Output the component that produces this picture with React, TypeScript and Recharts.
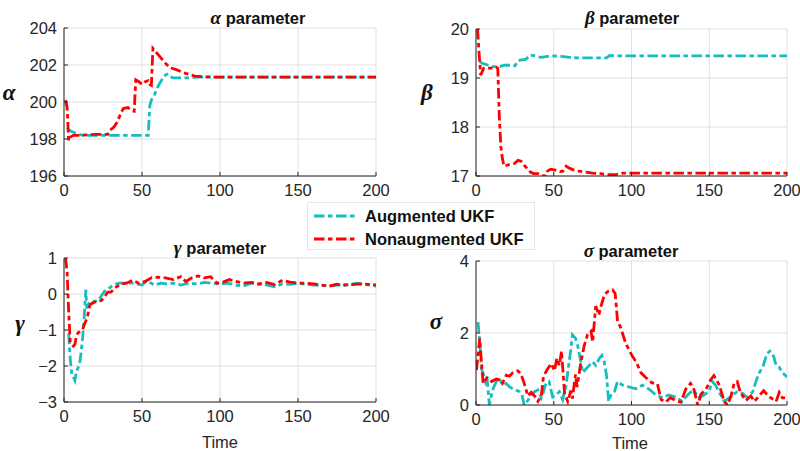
import React from 'react';
import { LineChart, Line, XAxis, YAxis, CartesianGrid } from 'recharts';

type Pt = [number, number];

const timeTicks = [0, 50, 100, 150, 200];
const alphaTicks = [196, 198, 200, 202, 204];
const betaTicks = [17, 18, 19, 20];
const gammaTicks = [-3, -2, -1, 0, 1];
const sigmaTicks = [0, 2, 4];

const seriesNames = ['Augmented UKF', 'Nonaugmented UKF'];

const alphaAugmented: Pt[] = [
  [2, 198.6], [3, 198.5], [5, 198.4], [8, 198.3], [12, 198.2], [20, 198.2], [30, 198.2], [40, 198.2],
  [50, 198.2], [54, 198.2], [55, 199.8], [56, 200.1], [58, 200.4], [60, 200.8], [62, 201.1], [64, 201.4],
  [66, 201.5], [68, 201.35], [70, 201.3], [75, 201.3], [80, 201.3], [85, 201.35], [90, 201.35],
  [100, 201.35], [150, 201.35], [200, 201.35],
];
const alphaNonaugmented: Pt[] = [
  [1, 200.1], [2, 199.7], [3, 197.9], [4, 198.1], [6, 198.2], [10, 198.2], [20, 198.25], [28, 198.25],
  [30, 198.5], [32, 198.65], [34, 198.9], [36, 199.3], [38, 199.65], [41, 199.7], [43, 199.55], [45, 199.5],
  [46, 201.2], [48, 201.1], [50, 200.95], [52, 201.1], [54, 201.15], [55, 200.95], [56, 200.9], [57, 202.9],
  [59, 202.7], [62, 202.4], [65, 202.1], [68, 201.85], [72, 201.75], [76, 201.6], [80, 201.5], [84, 201.4],
  [88, 201.37], [95, 201.35], [200, 201.35],
];

const betaAugmented: Pt[] = [
  [2, 19.35], [4, 19.3], [7, 19.27], [10, 19.24], [14, 19.22], [18, 19.26], [22, 19.26], [25, 19.25],
  [27, 19.35], [29, 19.37], [32, 19.38], [35, 19.47], [38, 19.45], [42, 19.42], [46, 19.44], [50, 19.45],
  [55, 19.44], [60, 19.42], [65, 19.41], [70, 19.41], [80, 19.41], [84, 19.41], [86, 19.46], [90, 19.45],
  [200, 19.45],
];
const betaNonaugmented: Pt[] = [
  [1, 20], [2, 19.5], [3, 19.06], [5, 19.2], [8, 19.2], [11, 19.2], [13, 19.22], [14, 19.2], [15, 18.2],
  [16, 17.6], [17, 17.35], [18, 17.2], [20, 17.22], [23, 17.25], [25, 17.26], [27, 17.32], [29, 17.3],
  [31, 17.22], [33, 17.15], [35, 17.08], [37, 17.05], [40, 17.05], [42, 17.02], [44, 17.0], [45, 17.0],
  [46, 17.1], [48, 17.14], [51, 17.12], [54, 17.09], [56, 17.1], [58, 17.2], [60, 17.16], [63, 17.12],
  [66, 17.1], [70, 17.08], [75, 17.06], [80, 17.05], [85, 17.03], [90, 17.03], [95, 17.06], [200, 17.06],
];

const gammaAugmented: Pt[] = [
  [3, -1.1], [4, -1.8], [5, -2.25], [6, -2.3], [7, -2.4], [8, -2.15], [9, -2.05], [10, -1.95], [11, -1.6],
  [12, -1.2], [13, -0.6], [14, 0.12], [14.6, -0.4], [16, -0.25], [18, -0.22], [20, -0.2], [22, -0.18],
  [24, -0.05], [26, 0.08], [28, 0.12], [30, 0.2], [32, 0.26], [35, 0.3], [40, 0.3], [44, 0.3], [48, 0.27],
  [50, 0.25], [53, 0.35], [56, 0.3], [58, 0.25], [62, 0.3], [66, 0.28], [70, 0.3], [75, 0.25], [80, 0.3],
  [85, 0.28], [90, 0.32], [95, 0.3], [100, 0.28], [105, 0.3], [110, 0.25], [115, 0.22], [120, 0.3],
  [125, 0.27], [130, 0.25], [135, 0.2], [140, 0.28], [145, 0.27], [150, 0.3], [155, 0.27], [160, 0.25],
  [165, 0.24], [170, 0.22], [175, 0.25], [180, 0.25], [185, 0.28], [188, 0.3], [192, 0.27], [196, 0.25],
  [200, 0.22],
];
const gammaNonaugmented: Pt[] = [
  [1, 1.0], [2, 0.6], [3, -0.5], [4, -1.35], [5, -1.4], [6, -1.45], [7, -1.4], [8, -1.15], [9, -1.08],
  [11, -1.0], [12, -0.98], [13, -0.85], [14, -0.75], [15, -0.65], [16, -0.4], [17, -0.28], [19, -0.24],
  [21, -0.2], [24, -0.18], [26, -0.08], [28, 0.05], [30, 0.05], [33, 0.18], [36, 0.27], [40, 0.3],
  [44, 0.38], [48, 0.3], [52, 0.35], [56, 0.45], [60, 0.47], [65, 0.45], [70, 0.4], [75, 0.48], [78, 0.35],
  [82, 0.45], [86, 0.5], [90, 0.45], [94, 0.48], [98, 0.3], [102, 0.33], [106, 0.4], [110, 0.35],
  [115, 0.3], [120, 0.32], [125, 0.28], [130, 0.32], [135, 0.26], [140, 0.38], [145, 0.33], [150, 0.3],
  [155, 0.3], [160, 0.28], [165, 0.25], [170, 0.22], [175, 0.27], [180, 0.25], [185, 0.26], [190, 0.28],
  [195, 0.27], [200, 0.25],
];

const sigmaAugmented: Pt[] = [
  [1.3, 2.3], [2.5, 1.7], [3.5, 1.0], [4.3, 0.92], [6, 0.65], [7, 0.8], [8.6, 0.0], [10, 0.3], [11, 0.45],
  [13, 0.65], [15, 0.72], [17.3, 0.55], [19.4, 0.6], [21.6, 0.5], [23.7, 0.45], [25.7, 0.42], [27.9, 0.37],
  [29.6, 0.28], [31, 0.0], [33.4, 0.13], [35.5, 0.28], [37.7, 0.37], [39.8, 0.42], [42, 0.2], [43.4, 0.37],
  [45, 0.6], [47, 0.65], [49.3, 0.22], [51.4, 0.28], [53.6, 0.37], [55.7, 0.15], [57.9, 0.55], [59.6, 1.1],
  [61, 1.55], [62, 1.95], [64, 1.85], [65.4, 1.65], [67, 1.3], [68.6, 0.9], [70.7, 1.0], [72.9, 1.1],
  [75, 1.2], [77, 1.1], [79.4, 1.3], [81, 1.38], [82.5, 1.2], [84, 0.8], [85.3, 0.1], [86.8, 0.28],
  [89, 0.37], [91, 0.65], [94.3, 0.55], [98.5, 0.5], [102.8, 0.45], [107, 0.55], [111, 0.45], [115.6, 0.28],
  [120, 0.2], [124, 0.28], [128.6, 0.22], [132.6, 0.1], [137, 0.32], [140, 0.42], [143, 0.2], [146.6, 0.28],
  [149.8, 0.37], [152, 0.65], [154, 0.55], [157.3, 0.28], [159.6, 0.1], [162.8, 0.2], [165, 0.28],
  [168, 0.37], [171.5, 0.32], [174.7, 0.2], [178, 0.37], [180, 0.65], [182, 0.88], [184.8, 1.1], [187, 1.42],
  [189, 1.5], [191.4, 1.35], [193, 1.1], [195, 1.05], [197, 0.9], [200, 0.78],
];
const sigmaNonaugmented: Pt[] = [
  [0.3, 0.97], [2.4, 1.85], [3.5, 1.2], [4.6, 0.6], [7, 0.75], [10, 0.65], [13, 0.72], [15, 0.7], [17, 0.6],
  [19.5, 0.83], [21.5, 0.8], [23.7, 0.9], [27, 0.95], [29, 0.85], [31, 0.6], [33.4, 0.25], [35.5, 0.35],
  [37.7, 0.25], [39.8, 0.1], [42, 0.25], [43.4, 0.8], [46, 1.0], [48.4, 1.15], [50.5, 0.95], [52, 1.3],
  [53.6, 1.1], [55, 1.5], [57, 0.3], [59, 0.1], [61, 0.4], [62, 0.18], [64, 0.85], [65, 0.5], [67.5, 1.2],
  [69.6, 1.65], [71.7, 1.95], [74, 2.05], [75, 1.75], [77, 2.75], [79, 2.5], [80.4, 2.75], [82.5, 3.05],
  [84.6, 3.15], [87.8, 3.2], [89.5, 3.1], [91, 2.35], [93, 2.15], [96.4, 1.7], [100.6, 1.35], [103, 1.2],
  [106, 0.9], [109, 0.77], [113, 0.62], [116.7, 0.58], [119, 0.15], [122, 0.08], [125, 0.2], [128.6, 0.12],
  [131.8, 0.08], [135, 0.45], [138, 0.6], [140, 0.45], [142.6, 0.0], [144.7, 0.3], [148, 0.45], [151, 0.7],
  [153, 0.82], [156.5, 0.55], [159.6, 0.1], [161.7, 0.0], [164, 0.25], [166, 0.6], [168, 0.65], [170, 0.35],
  [173.6, 0.12], [176.8, 0.25], [179, 0.1], [182, 0.25], [185, 0.4], [187, 0.3], [189.6, 0.2], [193, 0.1],
  [195, 0.35], [197, 0.2], [200, 0.2],
];

const toRows = (pts: Pt[]) => pts.map(([t, v]) => ({ t, v }));

const CYAN = '#17BDBD';
const RED = '#FF0000';
const DASH = '10.5 3.5 4.5 3.5';
const AXIS = '#262626';
const GRID = '#e0e0e0';
const SANS = '"Liberation Sans", Arial, Helvetica, sans-serif';
const SERIF = '"Liberation Serif", "Times New Roman", serif';
const LINE_W = 2.8;

const fmtMinus = (v: number) => String(v).replace('-', '\u2212');

type PanelProps = {
  left: number;
  top: number;
  width: number;
  height: number;
  margin: { top: number; right: number; bottom: number; left: number };
  yDomain: [number, number];
  yTicks: number[];
  aug: Pt[];
  non: Pt[];
};

function Panel({ left, top, width, height, margin, yDomain, yTicks, aug, non }: PanelProps) {
  const tickStyle = { fill: AXIS, fontSize: 16.5, fontFamily: SANS };
  return (
    <div style={{ position: 'absolute', left, top, width, height }}>
      <LineChart width={width} height={height} margin={margin}>
        <CartesianGrid stroke={GRID} strokeWidth={1} />
        <XAxis
          dataKey="t"
          type="number"
          domain={[0, 200]}
          ticks={timeTicks}
          allowDataOverflow
          height={30}
          stroke={AXIS}
          tickSize={-4}
          tickMargin={12}
          tick={tickStyle}
          axisLine={{ stroke: AXIS }}
          tickLine={{ stroke: AXIS }}
        />
        <YAxis
          dataKey="v"
          type="number"
          domain={yDomain}
          ticks={yTicks}
          allowDataOverflow
          width={40}
          tickSize={-4}
          tickMargin={11}
          tick={tickStyle}
          tickFormatter={fmtMinus}
          axisLine={{ stroke: AXIS }}
          tickLine={{ stroke: AXIS }}
        />
        <Line
          data={toRows(aug)}
          dataKey="v"
          type="linear"
          stroke={CYAN}
          strokeWidth={LINE_W}
          strokeDasharray={DASH}
          dot={false}
          activeDot={false}
          isAnimationActive={false}
          name={seriesNames[0]}
        />
        <Line
          data={toRows(non)}
          dataKey="v"
          type="linear"
          stroke={RED}
          strokeWidth={LINE_W}
          strokeDasharray={DASH}
          dot={false}
          activeDot={false}
          isAnimationActive={false}
          name={seriesNames[1]}
        />
      </LineChart>
    </div>
  );
}

const Title = ({ greek, cx, cy }: { greek: string; cx: number; cy: number }) => (
  <div
    style={{
      position: 'absolute',
      left: cx - 100,
      top: cy - 11,
      width: 200,
      height: 22,
      lineHeight: '22px',
      textAlign: 'center',
      fontFamily: SANS,
      fontWeight: 'bold',
      fontSize: 16.5,
      color: '#111',
      whiteSpace: 'nowrap',
    }}
  >
    <span style={{ fontFamily: SERIF, fontStyle: 'italic', fontSize: 19 }}>{greek}</span> parameter
  </div>
);

const YLabel = ({ greek, cx, cy }: { greek: string; cx: number; cy: number }) => (
  <div
    style={{
      position: 'absolute',
      left: cx - 15,
      top: cy - 14,
      width: 30,
      height: 24,
      lineHeight: '24px',
      textAlign: 'center',
      fontFamily: SERIF,
      fontStyle: 'italic',
      fontWeight: 'bold',
      fontSize: 23,
      color: '#111',
    }}
  >
    {greek}
  </div>
);

const XLabel = ({ cx, cy }: { cx: number; cy: number }) => (
  <div
    style={{
      position: 'absolute',
      left: cx - 40,
      top: cy - 10,
      width: 80,
      height: 20,
      lineHeight: '20px',
      textAlign: 'center',
      fontFamily: SANS,
      fontSize: 16.5,
      color: AXIS,
    }}
  >
    Time
  </div>
);

const LegendSample = ({ color }: { color: string }) => (
  <svg width={44} height={6} style={{ display: 'block' }}>
    <line x1={1} y1={3} x2={43} y2={3} stroke={color} strokeWidth={LINE_W} strokeDasharray={DASH} />
  </svg>
);

export default function App() {
  return (
    <div
      style={{
        position: 'absolute',
        left: 0,
        top: 0,
        width: 800,
        height: 451,
        background: '#fff',
        overflow: 'hidden',
      }}
    >
      <Panel
        left={0}
        top={0}
        width={400}
        height={225}
        margin={{ top: 28, right: 24, bottom: 19, left: 24 }}
        yDomain={[196, 204]}
        yTicks={alphaTicks}
        aug={alphaAugmented}
        non={alphaNonaugmented}
      />
      <Panel
        left={400}
        top={0}
        width={400}
        height={225}
        margin={{ top: 29, right: 13, bottom: 19, left: 36 }}
        yDomain={[17, 20]}
        yTicks={betaTicks}
        aug={betaAugmented}
        non={betaNonaugmented}
      />
      <Panel
        left={0}
        top={225}
        width={400}
        height={226}
        margin={{ top: 33, right: 24, bottom: 19, left: 24 }}
        yDomain={[-3, 1]}
        yTicks={gammaTicks}
        aug={gammaAugmented}
        non={gammaNonaugmented}
      />
      <Panel
        left={400}
        top={225}
        width={400}
        height={226}
        margin={{ top: 36, right: 13, bottom: 16, left: 36 }}
        yDomain={[0, 4]}
        yTicks={sigmaTicks}
        aug={sigmaAugmented}
        non={sigmaNonaugmented}
      />

      <Title greek={'\u03b1'} cx={258} cy={18} />
      <Title greek={'\u03b2'} cx={632} cy={18} />
      <Title greek={'\u03b3'} cx={220} cy={248} />
      <Title greek={'\u03c3'} cx={631} cy={251} />

      <YLabel greek={'\u03b1'} cx={9} cy={95} />
      <YLabel greek={'\u03b2'} cx={427} cy={95} />
      <YLabel greek={'\u03b3'} cx={20} cy={326} />
      <YLabel greek={'\u03c3'} cx={436} cy={324} />

      <XLabel cx={220} cy={442} />
      <XLabel cx={630} cy={443} />

      <div
        style={{
          position: 'absolute',
          left: 307,
          top: 202,
          width: 228,
          height: 48,
          boxSizing: 'border-box',
          border: '1px solid #e6e6e6',
          background: '#fff',
          fontFamily: SANS,
          fontWeight: 'bold',
          fontSize: 16.5,
          color: '#111',
        }}
      >
        {seriesNames.map((name, i) => (
          <div
            key={name}
            style={{
              position: 'absolute',
              left: 5,
              top: i === 0 ? 2 : 25,
              height: 22,
              display: 'flex',
              alignItems: 'center',
              whiteSpace: 'nowrap',
            }}
          >
            <LegendSample color={i === 0 ? CYAN : RED} />
            <span style={{ marginLeft: 8 }}>{name}</span>
          </div>
        ))}
      </div>
    </div>
  );
}
